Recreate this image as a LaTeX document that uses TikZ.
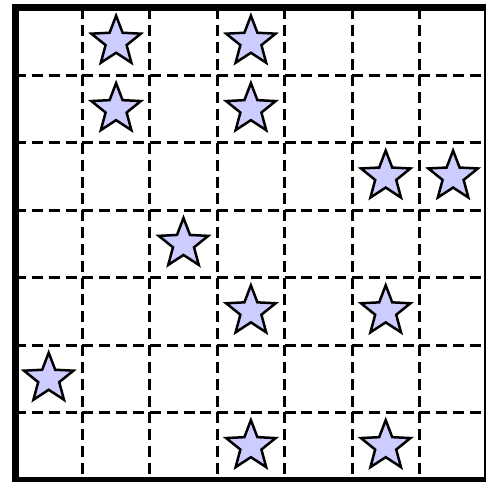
\documentclass[tikz,border=0pt]{standalone}
\usetikzlibrary{shapes.geometric}
\definecolor{starfill}{RGB}{204,204,255}
\tikzset{
  gridline/.style={line width=3pt, dash pattern=on 11pt off 5.85pt, black},
  starnode/.style={star, star points=5, star point ratio=2.35, minimum size=52pt,
    inner sep=0pt, draw=black, line width=2.5pt, fill=starfill},
  frameline/.style={line width=7pt, black}
}
\begin{document}
\begin{tikzpicture}[x=1pt,y=-1pt]
\useasboundingbox (0,0) rectangle (486,481);
\fill[white] (0,0) rectangle (486,481);
\clip (0,0) rectangle (486,481);
\def\s{67.4}
% grid corner coordinates
\foreach \i in {0,...,7}{
  \foreach \j in {0,...,7}{
    \coordinate (p-\i-\j) at ({15+\s*\i},{8+\s*\j});
  }
}
\coordinate (frame-br) at (487.6,480);
% dashed grid, restarted at every cell corner
\foreach \i in {1,...,6}{
  \foreach \j [evaluate=\j as \k using int(\j+1)] in {0,...,6}{
    \draw[gridline] (p-\i-\j) -- (p-\i-\k);
    \draw[gridline] (p-\j-\i) -- (p-\k-\i);
  }
}
% stars: column / row
\foreach \c/\r in {1/0,3/0,1/1,3/1,5/2,6/2,2/3,3/4,5/4,0/5,3/6,5/6}{
  \node[starnode] (s-\c-\r) at ({15+\s*(\c+0.5)},{8+\s*(\r+0.5)}) {};
}
% frame
\draw[frameline] (p-0-0) rectangle (frame-br);
\end{tikzpicture}
\end{document}
